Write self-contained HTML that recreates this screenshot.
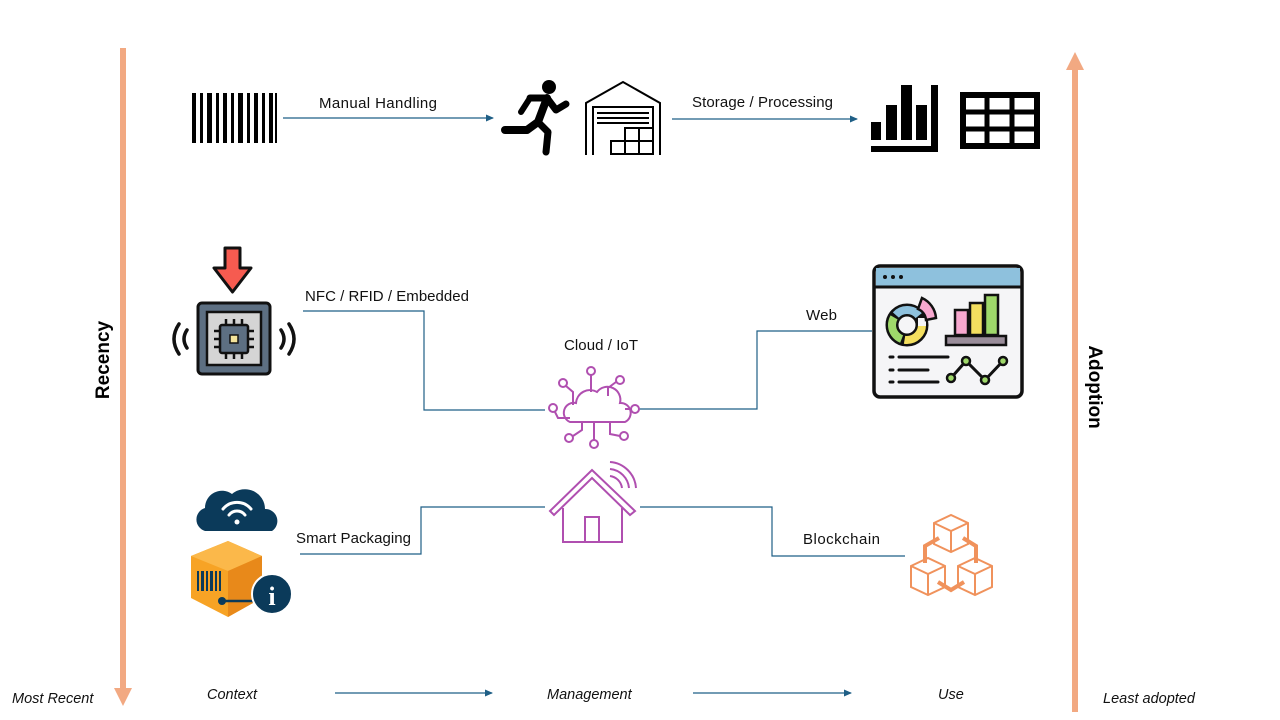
<!DOCTYPE html>
<html><head><meta charset="utf-8"><style>
html,body{margin:0;padding:0;background:#fff;}
svg{display:block;font-family:"Liberation Sans",sans-serif;}
</style></head><body>
<svg width="1280" height="720" viewBox="0 0 1280 720">
<defs>
<marker id="ar" markerWidth="8" markerHeight="8" refX="7" refY="4" orient="auto" markerUnits="userSpaceOnUse"><path d="M0,0.5 L8,4 L0,7.5 Z" fill="#1f5f86"/></marker>
</defs>
<!-- axes -->
<rect x="120" y="48" width="6" height="642" fill="#f2a982"/>
<path d="M114,688 L132,688 L123,706 Z" fill="#f2a982"/>
<rect x="1072" y="68" width="6" height="644" fill="#f2a982"/>
<path d="M1066,70 L1084,70 L1075,52 Z" fill="#f2a982"/>
<text transform="translate(109,360) rotate(-90)" text-anchor="middle" font-size="19" font-weight="bold">Recency</text>
<text transform="translate(1089,387) rotate(90)" text-anchor="middle" font-size="19" font-weight="bold">Adoption</text>
<g font-style="italic" font-size="14.5" fill="#111">
<text x="12" y="703">Most Recent</text>
<text x="1103" y="703">Least adopted</text>
<text x="207" y="699">Context</text>
<text x="547" y="699">Management</text>
<text x="938" y="699">Use</text>
</g>
<g stroke="#1f5f86" stroke-width="1.2" fill="none">
<line x1="335" y1="693" x2="492" y2="693" marker-end="url(#ar)"/>
<line x1="693" y1="693" x2="851" y2="693" marker-end="url(#ar)"/>
<line x1="283" y1="118" x2="493" y2="118" marker-end="url(#ar)"/>
<line x1="672" y1="119" x2="857" y2="119" marker-end="url(#ar)"/>
<path d="M303,311 H424 V410 H545"/>
<path d="M638,409 H757 V331 H872"/>
<path d="M300,554 H421 V507 H545"/>
<path d="M640,507 H772 V556 H905"/>
</g>
<g font-size="15" fill="#111">
<text x="319" y="108" textLength="118">Manual Handling</text>
<text x="692" y="107" textLength="141">Storage / Processing</text>
<text x="305" y="301" textLength="164">NFC / RFID / Embedded</text>
<text x="564" y="350" textLength="74">Cloud / IoT</text>
<text x="806" y="320" textLength="31">Web</text>
<text x="296" y="543" textLength="115">Smart Packaging</text>
<text x="803" y="544" textLength="77">Blockchain</text>
</g>
<!-- barcode -->
<g fill="#000">
<rect x="192" y="93" width="4" height="50"/><rect x="200" y="93" width="3" height="50"/><rect x="207" y="93" width="5" height="50"/><rect x="216" y="93" width="3" height="50"/><rect x="223" y="93" width="4" height="50"/><rect x="231" y="93" width="3" height="50"/><rect x="238" y="93" width="5" height="50"/><rect x="247" y="93" width="3" height="50"/><rect x="254" y="93" width="4" height="50"/><rect x="262" y="93" width="3" height="50"/><rect x="269" y="93" width="4" height="50"/><rect x="275" y="93" width="2" height="50"/>
</g>
<!-- runner -->
<g fill="#000" stroke="#000" stroke-linecap="round" stroke-linejoin="round">
<circle cx="549" cy="87" r="7" stroke="none"/>
<path d="M530,98 L547,98 L556,110 L566,104" stroke-width="7" fill="none"/>
<path d="M547,98 L538,122 L527,130 L505,130" stroke-width="8" fill="none"/>
<path d="M538,122 L548,132 L546,152" stroke-width="7" fill="none"/>
<path d="M530,98 L521,112" stroke-width="6" fill="none"/>
</g>
<!-- warehouse -->
<g fill="none" stroke="#000" stroke-width="2">
<path d="M586,155 V103 L623,82 L660,103 V155"/>
<path d="M593,155 V107 H653 V155"/>
<line x1="597" y1="113" x2="649" y2="113"/><line x1="597" y1="118" x2="649" y2="118"/><line x1="597" y1="123" x2="649" y2="123"/>
<rect x="611" y="141" width="14" height="13"/><rect x="625" y="141" width="14" height="13"/><rect x="639" y="141" width="14" height="13"/>
<rect x="625" y="128" width="14" height="13"/><rect x="639" y="128" width="14" height="13"/>
</g>
<!-- bar chart -->
<g fill="#000">
<rect x="871" y="122" width="10" height="18"/><rect x="886" y="105" width="11" height="35"/><rect x="901" y="85" width="11" height="55"/><rect x="916" y="105" width="11" height="35"/>
<rect x="931" y="85" width="7" height="67"/><rect x="871" y="146" width="67" height="6"/>
</g>
<!-- table -->
<rect x="963" y="95" width="74" height="51" fill="none" stroke="#000" stroke-width="6"/>
<g stroke="#000" stroke-width="5"><line x1="987" y1="95" x2="987" y2="146"/><line x1="1012" y1="95" x2="1012" y2="146"/><line x1="963" y1="112" x2="1037" y2="112"/><line x1="963" y1="129" x2="1037" y2="129"/></g>
<!-- chip -->
<path d="M225,248 H240 V268 H251 L232.5,292 L214,268 H225 Z" fill="#f65b50" stroke="#111" stroke-width="3" stroke-linejoin="round"/>
<rect x="198" y="303" width="72" height="71" rx="4" fill="#5d6f82" stroke="#111" stroke-width="3"/>
<rect x="207" y="312" width="54" height="53" fill="#d5d5d5" stroke="#111" stroke-width="2.5"/>
<rect x="220" y="325" width="28" height="28" rx="2" fill="#5d6f82" stroke="#111" stroke-width="2.5"/>
<g stroke="#111" stroke-width="2.5"><line x1="226" y1="319" x2="226" y2="325"/><line x1="234" y1="319" x2="234" y2="325"/><line x1="242" y1="319" x2="242" y2="325"/><line x1="226" y1="353" x2="226" y2="359"/><line x1="234" y1="353" x2="234" y2="359"/><line x1="242" y1="353" x2="242" y2="359"/><line x1="214" y1="331" x2="220" y2="331"/><line x1="214" y1="339" x2="220" y2="339"/><line x1="214" y1="347" x2="220" y2="347"/><line x1="248" y1="331" x2="254" y2="331"/><line x1="248" y1="339" x2="254" y2="339"/><line x1="248" y1="347" x2="254" y2="347"/></g>
<rect x="230" y="335" width="8" height="8" fill="#f3e39a" stroke="#111" stroke-width="1.5"/>
<g fill="none" stroke="#111" stroke-width="3.5" stroke-linecap="round"><path d="M179,324 Q169,339 179,354"/><path d="M187,330 Q181,339 187,348"/><path d="M289,324 Q299,339 289,354"/><path d="M281,330 Q287,339 281,348"/></g>
<!-- dashboard -->
<rect x="874" y="266" width="148" height="131" rx="6" fill="#f5f5f7" stroke="#111" stroke-width="3.5"/>
<path d="M876,268 H1020 V286 H876 Z" fill="#8ec1dd"/>
<line x1="874" y1="287" x2="1022" y2="287" stroke="#111" stroke-width="3"/>
<g fill="#111"><circle cx="885" cy="277" r="2"/><circle cx="893" cy="277" r="2"/><circle cx="901" cy="277" r="2"/></g>
<circle cx="907" cy="325" r="15" fill="none" stroke="#111" stroke-width="13"/>
<circle cx="907" cy="325" r="15" fill="none" stroke="#f4df5f" stroke-width="8" stroke-dasharray="26 68"/>
<circle cx="907" cy="325" r="15" fill="none" stroke="#9fd86a" stroke-width="8" stroke-dasharray="26 68" stroke-dashoffset="-29"/>
<circle cx="907" cy="325" r="15" fill="none" stroke="#8ec1dd" stroke-width="8" stroke-dasharray="26 68" stroke-dashoffset="-58"/>
<rect x="918" y="318" width="8" height="8" fill="#f5f5f7"/>
<path d="M922,298 A24,24 0 0 1 936,318 L926,320 A13,13 0 0 0 918,309 Z" fill="#f7a8cf" stroke="#111" stroke-width="2.5"/>
<rect x="955" y="310" width="13" height="25" fill="#f7a8cf" stroke="#111" stroke-width="2.5"/>
<rect x="970" y="303" width="13" height="32" fill="#f4df5f" stroke="#111" stroke-width="2.5"/>
<rect x="985" y="295" width="13" height="40" fill="#9fd86a" stroke="#111" stroke-width="2.5"/>
<rect x="946" y="336" width="60" height="9" fill="#9a8d9a" stroke="#111" stroke-width="2.5"/>
<g stroke="#111" stroke-width="3" stroke-linecap="round"><line x1="890" y1="357" x2="893" y2="357"/><line x1="899" y1="357" x2="948" y2="357"/><line x1="890" y1="370" x2="893" y2="370"/><line x1="899" y1="370" x2="928" y2="370"/><line x1="890" y1="382" x2="893" y2="382"/><line x1="899" y1="382" x2="938" y2="382"/></g>
<path d="M951,378 L966,361 L985,380 L1003,361" fill="none" stroke="#111" stroke-width="3"/>
<g fill="#9fd86a" stroke="#111" stroke-width="2.5"><circle cx="951" cy="378" r="4"/><circle cx="966" cy="361" r="4"/><circle cx="985" cy="380" r="4"/><circle cx="1003" cy="361" r="4"/></g>
<!-- cloud iot -->
<g fill="none" stroke="#b04fb0" stroke-width="2">
<path d="M570,422 H625 A10,10 0 0 0 620,403 A13,13 0 0 0 597,392 A14,14 0 0 0 576,403 A10,10 0 0 0 570,422 Z"/>
<path d="M591,392 V375"/><circle cx="591" cy="371" r="4"/>
<path d="M573,405 V392 L566,386"/><circle cx="563" cy="383" r="4"/>
<path d="M608,396 V388 L616,382"/><circle cx="620" cy="380" r="4"/>
<path d="M570,418 H558 L555,412"/><circle cx="553" cy="408" r="4"/>
<path d="M625,409 H632"/><circle cx="635" cy="409" r="4"/>
<path d="M582,422 V430 L573,436"/><circle cx="569" cy="438" r="4"/>
<path d="M594,422 V440"/><circle cx="594" cy="444" r="4"/>
<path d="M610,422 V434 L620,436"/><circle cx="624" cy="436" r="4"/>
</g>
<!-- house -->
<g fill="none" stroke="#b04fb0" stroke-width="2">
<path d="M550,511 L592,470 L635,511 L630,515 L592,478 L554,515 Z"/>
<path d="M563,508 V542 H622 V508"/>
<path d="M585,542 V517 H599 V542"/>
<path d="M610,462 A28,28 0 0 1 636,488"/><path d="M610,469 A21,21 0 0 1 629,488"/><path d="M610,476 A14,14 0 0 1 622,488"/>
</g>
<!-- blockchain -->
<g fill="#fff" stroke="#f0925c" stroke-width="2">
<path d="M934,523 L951,515 L968,523 V544 L951,552 L934,544 Z"/><path d="M934,523 L951,531 L968,523 M951,531 V552"/>
<path d="M911,566 L928,558 L945,566 V587 L928,595 L911,587 Z"/><path d="M911,566 L928,574 L945,566 M928,574 V595"/>
<path d="M958,566 L975,558 L992,566 V587 L975,595 L958,587 Z"/><path d="M958,566 L975,574 L992,566 M975,574 V595"/>
<path d="M939,538 L925,546 V563" fill="none" stroke-width="4"/>
<path d="M963,538 L976,546 V563" fill="none" stroke-width="4"/>
<path d="M938,582 L951,590 L964,582" fill="none" stroke-width="4"/>
</g>
<!-- smart packaging -->
<path d="M205,531 H272 A12,12 0 0 0 265,509 A20,20 0 0 0 232,494 A17,17 0 0 0 205,508 A12,12 0 0 0 205,531 Z" fill="#0b3a5a"/>
<g fill="none" stroke="#fff" stroke-width="3" stroke-linecap="round"><path d="M223,509 A18,18 0 0 1 251,509"/><path d="M229,515 A10,10 0 0 1 245,515"/></g>
<circle cx="237" cy="522" r="2.5" fill="#fff"/>
<path d="M191,556 L228,541 L262,556 V598 L228,617 L191,598 Z" fill="#f7a325"/>
<path d="M191,556 L228,541 L262,556 L228,571 Z" fill="#fbb84a"/>
<path d="M228,571 V617 L262,598 V556 Z" fill="#e8891a"/>
<g fill="#0b3a5a"><rect x="197" y="571" width="2" height="20"/><rect x="201" y="571" width="3" height="20"/><rect x="206" y="571" width="2" height="20"/><rect x="210" y="571" width="3" height="20"/><rect x="215" y="571" width="2" height="20"/><rect x="219" y="571" width="2" height="20"/></g>
<line x1="222" y1="601" x2="255" y2="601" stroke="#0b3a5a" stroke-width="2.5"/>
<circle cx="222" cy="601" r="4" fill="#0b3a5a"/>
<circle cx="272" cy="594" r="20" fill="#0b3a5a" stroke="#fff" stroke-width="2"/>
<text x="272" y="605" text-anchor="middle" font-family="Liberation Serif,serif" font-weight="bold" font-size="26" fill="#fff">i</text>
</svg>
</body></html>
